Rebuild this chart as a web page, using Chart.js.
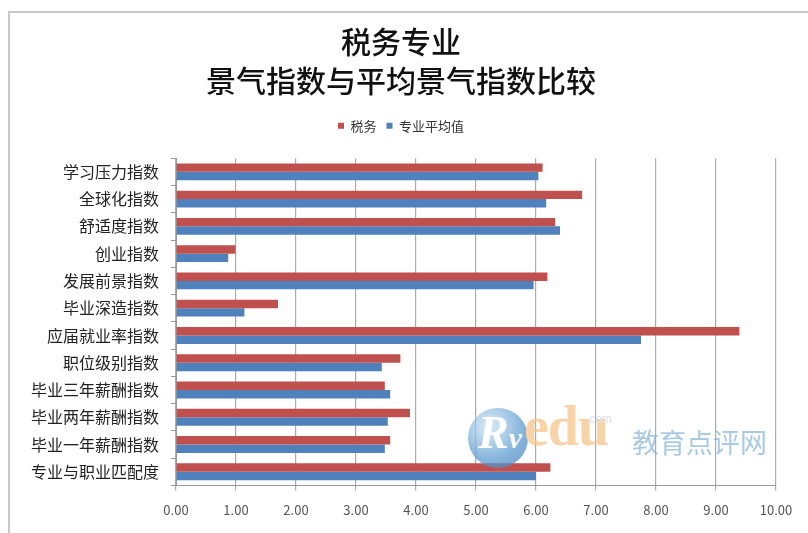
<!DOCTYPE html>
<html>
<head>
<meta charset="utf-8">
<script src="https://cdn.jsdelivr.net/npm/chart.js@4"></script>
<style>
html,body{margin:0;padding:0;background:#fff;}
#wrap{position:relative;width:808px;height:533px;overflow:hidden;}
#frame{position:absolute;left:8px;top:11px;width:820px;height:540px;border-left:2px solid #c8c8c8;border-top:2px solid #c8c8c8;box-sizing:border-box;pointer-events:none;}
canvas{position:absolute;left:0;top:0;}
#wm{position:absolute;left:466px;top:404px;width:310px;height:70px;pointer-events:none;opacity:0.75;}
#wm .ball{position:absolute;left:2px;top:4px;width:60px;height:60px;border-radius:50%;background:radial-gradient(circle at 35% 30%,#cfe4f5,#5b9bd0 60%,#3f7fb8);}
#wm .r{position:absolute;left:12px;top:2px;font:italic bold 46px "Liberation Serif",serif;color:#fff;}
#wm .edu{position:absolute;left:58px;top:-10px;font:bold 56px "Liberation Serif",serif;color:#f5c58a;letter-spacing:-1px;}
#wm .com{position:absolute;left:120px;top:8px;font:12px "Liberation Sans",sans-serif;color:#c9d6e3;}
#wm .cn{position:absolute;left:166px;top:18px;font:27px "Noto Sans CJK SC",sans-serif;color:#8cb8dc;}
</style>
</head>
<body>
<div id="wrap">
<canvas id="c" width="808" height="533"></canvas>
<div id="frame"></div>
<div id="wm"><div class="ball"></div><div class="r">R<span style="font-size:30px">v</span></div><div class="edu">edu</div><div class="com">.com</div><div class="cn">教育点评网</div></div>
</div>
<script>
const titleLines = ["税务专业", "景气指数与平均景气指数比较"];
const categories = ["学习压力指数","全球化指数","舒适度指数","创业指数","发展前景指数","毕业深造指数","应届就业率指数","职位级别指数","毕业三年薪酬指数","毕业两年薪酬指数","毕业一年薪酬指数","专业与职业匹配度"];
const seriesNames = ["税务", "专业平均值"];
const taxValues = [6.11, 6.77, 6.32, 0.99, 6.19, 1.70, 9.39, 3.74, 3.48, 3.90, 3.57, 6.24];
const avgValues = [6.04, 6.17, 6.40, 0.87, 5.96, 1.14, 7.75, 3.43, 3.57, 3.53, 3.48, 6.00];
const xMin = 0, xMax = 10, xStep = 1;

const FONT = '"Noto Sans CJK SC","Noto Sans",sans-serif';

new Chart(document.getElementById('c'), {
  type: 'bar',
  data: {
    labels: categories,
    datasets: [
      {label: seriesNames[0], data: taxValues, backgroundColor: '#C0504D', borderWidth: 0},
      {label: seriesNames[1], data: avgValues, backgroundColor: '#4F81BD', borderWidth: 0}
    ]
  },
  options: {
    indexAxis: 'y',
    responsive: false,
    animation: false,
    devicePixelRatio: 1,
    categoryPercentage: 0.62,
    barPercentage: 1.0,
    layout: {padding: {left: 26, right: 32, top: 13, bottom: 3}},
    plugins: {
      title: {
        display: true,
        text: titleLines,
        color: '#111',
        font: {family: FONT, size: 30, weight: '500', lineHeight: 1.27},
        padding: {top: 10, bottom: 10}
      },
      legend: {
        display: true,
        position: 'top',
        labels: {
          color: '#333',
          font: {family: FONT, size: 13},
          boxWidth: 6, boxHeight: 6,
          padding: 10
        }
      },
      tooltip: {enabled: false}
    },
    scales: {
      x: {
        position: 'bottom',
        min: xMin, max: xMax,
        ticks: {stepSize: xStep, color: '#555', font: {family: FONT, size: 13}, padding: 12,
                callback: v => Number(v).toFixed(2)},
        grid: {color: '#ABABAB', lineWidth: 1.2, tickLength: 5, drawTicks: true},
        border: {display: true, color: '#9A9A9A', width: 1}
      },
      spacer: {
        axis: 'x',
        position: 'top',
        display: true,
        min: 0, max: 1,
        ticks: {display: false},
        grid: {display: false, drawTicks: false},
        border: {display: false},
        afterFit: s => { s.height = 16; }
      },
      y: {
        position: 'left',
        ticks: {color: '#222', font: {family: FONT, size: 16}, padding: 12},
        grid: {drawOnChartArea: false, drawTicks: true, tickLength: 5, color: '#9A9A9A', offset: true},
        border: {display: true, color: '#9A9A9A', width: 1},
        afterFit: s => { s.width = 150; }
      }
    }
  }
});
</script>
</body>
</html>
